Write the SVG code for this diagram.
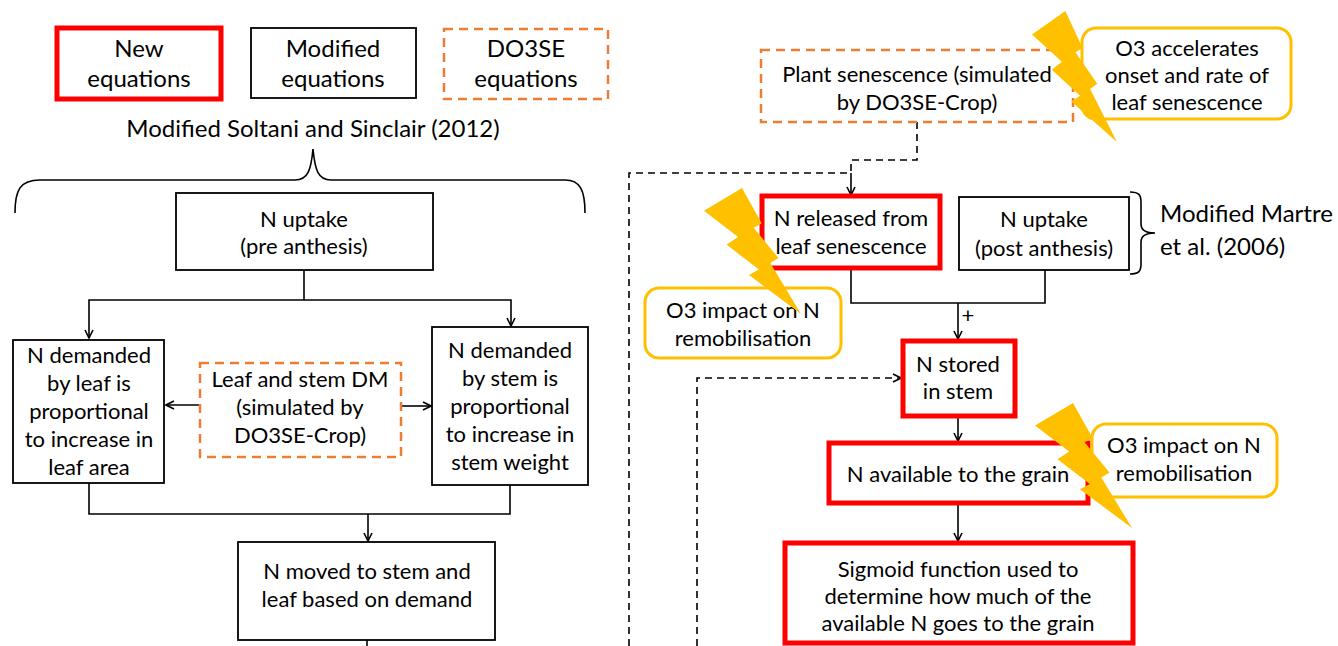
<svg xmlns="http://www.w3.org/2000/svg" width="1338" height="646" viewBox="0 0 1338 646">
<defs>
<style>
text{font-family:Lato,"Liberation Sans",sans-serif;font-size:22px;fill:#000;text-anchor:middle}
.big{font-size:24px}
.blk{fill:#fff;stroke:#000;stroke-width:1.8}
.red{fill:#fff;stroke:#FF0000;stroke-width:5}
.org{fill:#fff;stroke:#ED7D31;stroke-width:2.5;stroke-dasharray:9 6}
.yel{fill:#fff;stroke:#FFC000;stroke-width:3}
.ln{fill:none;stroke:#000;stroke-width:1.6}
.dl{fill:none;stroke:#000;stroke-width:1.6;stroke-dasharray:7 5}
.bolt{fill:#FFC000;stroke:none}
</style>
<marker id="ar" viewBox="0 0 10 10" refX="9" refY="5" markerWidth="10" markerHeight="10" markerUnits="userSpaceOnUse" orient="auto">
<path d="M1,1 L9,5 L1,9" fill="none" stroke="#000" stroke-width="1.6"/>
</marker>
<polygon id="boltShape" points="39.22,0 59.54,28.15 51.16,31.47 76.75,55.59 68.37,59.58 100,100 46.35,69.05 56.58,64.76 23.25,44.93 35.19,38.81 0,18.01"/>
</defs>
<rect width="1338" height="646" fill="#fff"/>

<g id="legend-new"><rect class="red" x="57" y="28" width="164" height="71"/><text class="big" x="139" y="57">New</text><text class="big" x="139" y="87">equations</text></g>
<g id="legend-modified"><rect class="blk" x="251" y="28" width="165" height="70"/><text class="big" x="333" y="57">Modified</text><text class="big" x="333" y="87">equations</text></g>
<g id="legend-do3se"><rect class="org" x="444" y="29" width="164" height="70"/><text class="big" x="526" y="57">DO3SE</text><text class="big" x="526" y="87">equations</text></g>

<g id="soltani-label"><text class="big" x="313" y="137">Modified Soltani and Sinclair (2012)</text>
<path class="ln" d="M15,213 C15,190 20,180 40,180 L295,180 C308,180 311,170 313,149 C315,170 318,180 331,180 L565,180 C580,180 585,190 585,213"/></g>

<g id="connectors">
<path class="ln" d="M304,270 L304,300 L89,300 L89,338" marker-end="url(#ar)"/>
<path class="ln" d="M304,300 L511,300 L511,326" marker-end="url(#ar)"/>
<path class="ln" d="M200,405 L166,405" marker-end="url(#ar)"/>
<path class="ln" d="M401,406 L431,406" marker-end="url(#ar)"/>
<path class="ln" d="M89,483 L89,514 L510,514 L510,485"/>
<path class="ln" d="M368,514 L368,541" marker-end="url(#ar)"/>
<path class="dl" d="M367,640 L367,646"/>
<path class="dl" d="M917,122 L917,160 L851,160 L851,173"/>
<path class="dl" d="M629,646 L629,173 L851,173"/>
<path class="ln" d="M851,173 L851,195" marker-end="url(#ar)"/>
<path class="dl" d="M697,646 L697,378 L901,378" marker-end="url(#ar)"/>
<path class="ln" d="M851,268 L851,303 L1045,303 L1045,270"/>
<path class="ln" d="M958,303 L958,339" marker-end="url(#ar)"/>
<path class="ln" d="M958,416 L958,441" marker-end="url(#ar)"/>
<path class="ln" d="M958,503 L958,541" marker-end="url(#ar)"/>
</g>
<text x="968" y="323">+</text>

<g id="n-uptake-pre"><rect class="blk" x="176" y="193" width="257" height="77"/><text x="304" y="227">N uptake</text><text x="304" y="254">(pre anthesis)</text></g>
<g id="n-demand-leaf"><rect class="blk" x="13" y="340" width="151" height="143"/><text x="89" y="363">N demanded</text><text x="89" y="391">by leaf is</text><text x="89" y="419">proportional</text><text x="89" y="447">to increase in</text><text x="89" y="475">leaf area</text></g>
<g id="leaf-stem-dm"><rect class="org" x="200" y="363" width="201" height="94"/><text x="300" y="387">Leaf and stem DM</text><text x="300" y="415">(simulated by</text><text x="300" y="443">DO3SE-Crop)</text></g>
<g id="n-demand-stem"><rect class="blk" x="432" y="327" width="156" height="158"/><text x="510" y="358">N demanded</text><text x="510" y="386">by stem is</text><text x="510" y="414">proportional</text><text x="510" y="442">to increase in</text><text x="510" y="470">stem weight</text></g>
<g id="n-moved"><rect class="blk" x="238" y="542" width="257" height="98"/><text x="367" y="579">N moved to stem and</text><text x="367" y="607">leaf based on demand</text></g>

<g id="plant-senescence"><rect class="org" x="761" y="50" width="312" height="72"/><text x="917" y="82">Plant senescence (simulated</text><text x="917" y="110">by DO3SE-Crop)</text></g>
<g id="o3-accelerates"><rect class="yel" x="1082" y="28" width="209" height="91" rx="14"/><text x="1187" y="56">O3 accelerates</text><text x="1187" y="83">onset and rate of</text><text x="1187" y="110">leaf senescence</text></g>
<g id="n-released"><rect class="red" x="762" y="196" width="178" height="72"/><text x="851" y="226">N released from</text><text x="851" y="254">leaf senescence</text></g>
<g id="n-uptake-post"><rect class="blk" x="959" y="197" width="170" height="73"/><text x="1044" y="227">N uptake</text><text x="1044" y="256">(post anthesis)</text></g>
<g id="martre-label"><path class="ln" d="M1130,192 C1139,192 1141,195 1141,202 L1141,224 C1141,230 1145,233 1155,233 C1145,233 1141,236 1141,242 L1141,264 C1141,271 1139,274 1130,274"/><text class="big" x="1160" y="222" style="text-anchor:start">Modified Martre</text><text class="big" x="1160" y="255" style="text-anchor:start">et al. (2006)</text></g>
<g id="o3-impact-1"><rect class="yel" x="645" y="288" width="196" height="70" rx="14"/><text x="743" y="318">O3 impact on N</text><text x="743" y="346">remobilisation</text></g>
<g id="n-stored"><rect class="red" x="903" y="341" width="112" height="75"/><text x="958" y="372">N stored</text><text x="958" y="399">in stem</text></g>
<g id="n-available"><rect class="red" x="829" y="443" width="259" height="60"/><text x="958" y="482">N available to the grain</text></g>
<g id="o3-impact-2"><rect class="yel" x="1092" y="424" width="185" height="73" rx="14"/><text x="1184" y="453">O3 impact on N</text><text x="1184" y="481">remobilisation</text></g>
<g id="sigmoid"><rect class="red" x="785" y="543" width="348" height="100"/><text x="958" y="577">Sigmoid function used to</text><text x="958" y="604">determine how much of the</text><text x="958" y="631">available N goes to the grain</text></g>

<g id="bolts">
<use href="#boltShape" class="bolt" transform="translate(1032,11) scale(0.85,1.31)"/>
<use href="#boltShape" class="bolt" transform="translate(704,188) scale(0.97,1.26)"/>
<use href="#boltShape" class="bolt" transform="translate(1035,403) scale(0.97,1.25)"/>
</g>
</svg>
